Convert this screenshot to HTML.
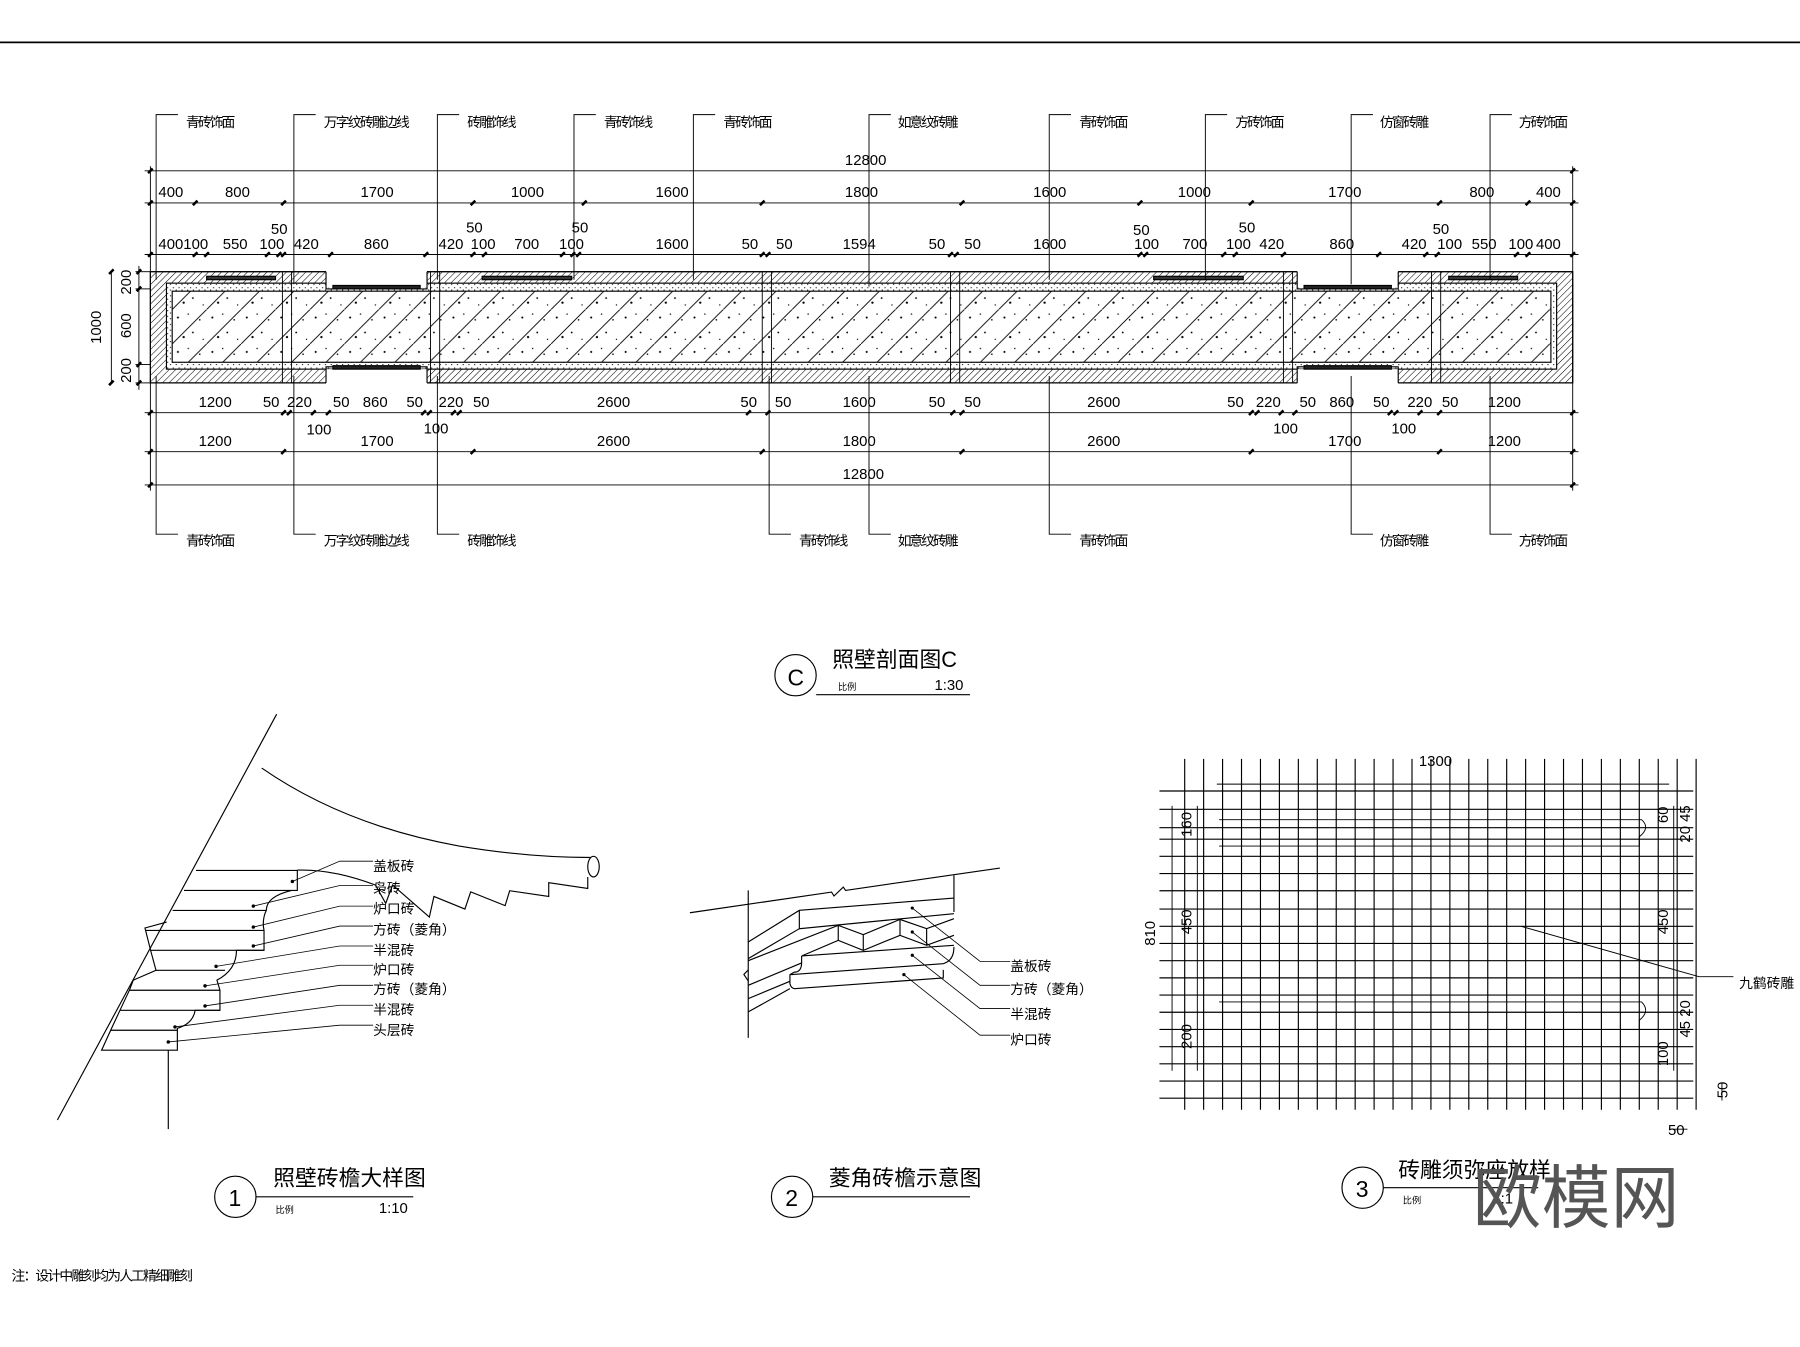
<!DOCTYPE html>
<html><head><meta charset="utf-8"><style>
html,body{margin:0;padding:0;background:#fff;}
svg{display:block;}
text{font-family:"Liberation Sans","Noto Sans CJK SC",sans-serif;fill:#000;}
.cn{font-family:"Liberation Sans","Noto Sans CJK SC",sans-serif;font-size:12px;}
.d{font-size:13px;}
</style></head><body>
<svg width="1800" height="1347" viewBox="0 0 1568 1175" preserveAspectRatio="none" xmlns="http://www.w3.org/2000/svg">
<defs>
<pattern id="hd" width="4" height="4" patternUnits="userSpaceOnUse" patternTransform="rotate(45)"><line x1="0" y1="0" x2="0" y2="4" stroke="#000" stroke-width="0.9"/></pattern>
<pattern id="conc" width="30" height="30" patternUnits="userSpaceOnUse"><rect width="30" height="30" fill="#fff"/><line x1="0" y1="30" x2="30" y2="0" stroke="#000" stroke-width="0.8"/><circle cx="5" cy="7" r="0.9"/><circle cx="18" cy="20" r="0.8"/><circle cx="24" cy="9" r="0.7"/><circle cx="10" cy="24" r="1"/><circle cx="14" cy="4" r="0.6"/><circle cx="27" cy="26" r="0.6"/></pattern>
<pattern id="mort" width="5" height="5" patternUnits="userSpaceOnUse"><rect width="5" height="5" fill="#fff"/><circle cx="1" cy="1" r="0.5"/><circle cx="3.5" cy="3" r="0.5"/></pattern>
</defs>
<g stroke="#000" stroke-width="1" fill="none">
<line x1="0" y1="37" x2="1568" y2="37" stroke-width="1.5"/>
<!-- wall section -->
<rect x="131" y="237" width="1239" height="97" fill="url(#hd)"/>
<rect x="145" y="247" width="1211" height="75" fill="url(#mort)"/>
<rect x="150" y="254" width="1201" height="62" fill="url(#conc)"/>
<rect x="284" y="236" width="88" height="15" fill="#fff" stroke="none"/>
<rect x="1130" y="236" width="88" height="15" fill="#fff" stroke="none"/>
<rect x="284" y="322" width="88" height="13" fill="#fff" stroke="none"/>
<rect x="1130" y="322" width="88" height="13" fill="#fff" stroke="none"/>
<rect x="290" y="249" width="76" height="3" fill="#222"/>
<rect x="1136" y="249" width="76" height="3" fill="#222"/>
<rect x="290" y="319" width="76" height="3" fill="#222"/>
<rect x="1136" y="319" width="76" height="3" fill="#222"/>
<path d="M284 237V252H290M372 237V252H366M1130 237V252H1136M1218 237V252H1212M284 334V320H290M372 334V320H366M1130 334V320H1136M1218 334V320H1212"/>
<rect x="180" y="241" width="60" height="3" fill="#333"/>
<rect x="420" y="241" width="78" height="3" fill="#333"/>
<rect x="1005" y="241" width="78" height="3" fill="#333"/>
<rect x="1262" y="241" width="60" height="3" fill="#333"/>
<line x1="131" y1="237" x2="284" y2="237"/><line x1="372" y1="237" x2="1130" y2="237"/><line x1="1218" y1="237" x2="1370" y2="237"/>
<line x1="131" y1="334" x2="284" y2="334"/><line x1="372" y1="334" x2="1130" y2="334"/><line x1="1218" y1="334" x2="1370" y2="334"/>
<line x1="131" y1="237" x2="131" y2="334"/><line x1="1370" y1="237" x2="1370" y2="334"/>
<g stroke-width="0.8">
<line x1="246" y1="237" x2="246" y2="334"/><line x1="254" y1="237" x2="254" y2="334"/>
<line x1="375" y1="237" x2="375" y2="334"/><line x1="383" y1="237" x2="383" y2="334"/>
<line x1="1118" y1="237" x2="1118" y2="334"/><line x1="1126" y1="237" x2="1126" y2="334"/>
<line x1="1247" y1="237" x2="1247" y2="334"/><line x1="1255" y1="237" x2="1255" y2="334"/>
<line x1="664" y1="237" x2="664" y2="334"/><line x1="672" y1="237" x2="672" y2="334"/>
<line x1="828" y1="237" x2="828" y2="334"/><line x1="836" y1="237" x2="836" y2="334"/>
</g>
<g stroke-width="0.8">
<line x1="126" y1="149" x2="1375" y2="149"/>
<line x1="126" y1="177" x2="1375" y2="177"/>
<line x1="126" y1="222" x2="1375" y2="222"/>
<line x1="126" y1="360" x2="1375" y2="360"/>
<line x1="126" y1="394" x2="1375" y2="394"/>
<line x1="126" y1="423" x2="1375" y2="423"/>
<line x1="131" y1="145" x2="131" y2="237"/><line x1="1370" y1="145" x2="1370" y2="237"/>
<line x1="131" y1="334" x2="131" y2="428"/><line x1="1370" y1="334" x2="1370" y2="428"/>
<line x1="118" y1="237" x2="131" y2="237"/><line x1="118" y1="252" x2="131" y2="252"/><line x1="118" y1="318" x2="131" y2="318"/><line x1="118" y1="334" x2="131" y2="334"/>
<line x1="121" y1="232" x2="121" y2="340"/>
<line x1="97" y1="237" x2="97" y2="334"/>
</g>
<g stroke-width="2.2">
<path d="M129 151l4-4M129 179l4-4M168 179l4-4M245 179l4-4M410 179l4-4M507 179l4-4M662 179l4-4M836 179l4-4M991 179l4-4M1088 179l4-4M1252 179l4-4M1329 179l4-4M1368 179l4-4M1368 151l4-4"/>
<path d="M129 224l4-4M168 224l4-4M178 224l4-4M231 224l4-4M241 224l4-4M245 224l4-4M286 224l4-4M369 224l4-4M410 224l4-4M420 224l4-4M488 224l4-4M497 224l4-4M502 224l4-4M662 224l4-4M667 224l4-4M826 224l4-4M831 224l4-4M991 224l4-4M996 224l4-4M1064 224l4-4M1074 224l4-4M1116 224l4-4M1199 224l4-4M1240 224l4-4M1250 224l4-4M1319 224l4-4M1329 224l4-4M1368 224l4-4"/>
<path d="M129 362l4-4M245 362l4-4M250 362l4-4M271 362l4-4M284 362l4-4M367 362l4-4M372 362l4-4M393 362l4-4M398 362l4-4M650 362l4-4M667 362l4-4M828 362l4-4M836 362l4-4M1088 362l4-4M1093 362l4-4M1114 362l4-4M1126 362l4-4M1209 362l4-4M1214 362l4-4M1235 362l4-4M1252 362l4-4M1368 362l4-4"/>
<path d="M129 396l4-4M245 396l4-4M410 396l4-4M662 396l4-4M836 396l4-4M1088 396l4-4M1252 396l4-4M1368 396l4-4M129 425l4-4M1368 425l4-4"/>
<path d="M119 239l4-4M119 254l4-4M119 320l4-4M119 336l4-4M95 239l4-4M95 336l4-4"/>
</g>
<g stroke-width="0.8">
<path d="M155 100H136V244M275 100H256V248M400 100H381V244M519 100H500V244M623 100H604V244M776 100H757V250M933 100H914V244M1069 100H1050V244M1196 100H1177V248M1317 100H1298V244"/>
<path d="M136 328V466H155M256 328V466H275M381 328V466H400M670 328V466H689M757 328V466H776M914 328V466H933M1177 328V466H1196M1298 328V466H1317"/>
</g>
<circle cx="693" cy="589" r="18"/>
<line x1="711" y1="606" x2="845" y2="606"/>
<!-- drawing 1 -->
<line x1="241" y1="623" x2="50" y2="977"/>
<path d="M228 670 Q300 720 400 738 Q460 748 515 748"/>
<ellipse cx="517" cy="756" rx="5" ry="9"/>
<path d="M259 759 Q290 758 327 772 L336 788 L342 772 L374 800 L378 782 L405 793 L410 778 L440 790 L444 777 L478 782 L478 770 L512 775 L512 765"/>
<path d="M170.7 759.3 H259 V776.7 H254 Q232 782 232 794 Q229 800 229.4 808 L230 811.6 V829 H206 Q206 846 189 855 L191.6 863.8 V881.3 H170 Q168 893 154.5 897 V916.1 H88.5 L96.4 898.7 L104.5 881.3 L112.7 863.8 L116.1 855 L135.9 846.4 L131.2 829 L126.3 809.5 L145.2 804.3"/>
<path d="M160.3 776.7H254M150.4 794.2H232M126.3 811.6H230M131.2 829H230M135.9 846.4H196M112.7 863.8H191.6M104.5 881.3H191.6M96.4 898.7H154.5M146.6 916.1V985"/>
<g stroke-width="0.7">
<path d="M254.7 768.9L296 751.2H325M220.7 790.4L296 772.4H325M220.7 808.7L296 790.4H325M220.7 825.2L296 807.8H325M188.2 843L296 825.2H325M178.6 860L296 842H325M178.6 877.5L296 859.5H325M152.4 895.8L296 876.9H325M146.6 908.9L296 894.3H325"/>
</g>
<g fill="#000" stroke="none"><circle cx="254.7" cy="768.9" r="1.5"/><circle cx="220.7" cy="790.4" r="1.5"/><circle cx="220.7" cy="808.7" r="1.5"/><circle cx="220.7" cy="825.2" r="1.5"/><circle cx="188.2" cy="843" r="1.5"/><circle cx="178.6" cy="860" r="1.5"/><circle cx="178.6" cy="877.5" r="1.5"/><circle cx="152.4" cy="895.8" r="1.5"/><circle cx="146.6" cy="908.9" r="1.5"/></g>
<circle cx="205" cy="1044" r="18"/>
<line x1="223" y1="1044" x2="360" y2="1044"/>
<!-- drawing 2 -->
<path d="M601 796.2 L724.4 778.2 L726.5 781.6 L734.6 773.8 L736.6 776.7 L871 757.2"/>
<path d="M651.8 776.7V905.4M831 763.6V795.6"/>
<path d="M651.8 821.7L696.3 794.1L831 783.4M696.3 794.1V810.1L831 797"/>
<path d="M651.8 836.2L696.3 810.1M651.8 838L730.2 807.2L752 815.3L784 802L807.2 810.1L831 801.4M730.2 807.2V820.3M752 815.3V829M784 802V815.9M807.2 810.1V824.6M698.3 833.9L730.2 820.3L752 829L784 815.9L807.2 824.6L831 815.9M698.3 833.9L831 824.6M698.3 833.9V840 Q698 848 692 848 L688.1 850.2 L821.7 840.6 Q831 838 831 826M688.1 850.2V858 Q689 862 692 862.4L821.7 853.1V846M651.8 859.5L698.3 840M651.8 871.1L688.1 856M651.8 882.7L688.1 862.4M651.8 846L648 850L652 856"/>
<g stroke-width="0.7"><path d="M794.7 792.1L853.7 838.6H880M794.7 813L853.7 859.5H880M794.7 833.3L853.7 879.8H880M787.4 850.2L853.7 903H880"/></g>
<g fill="#000" stroke="none"><circle cx="794.7" cy="792.1" r="1.4"/><circle cx="794.7" cy="813" r="1.4"/><circle cx="794.7" cy="833.3" r="1.4"/><circle cx="787.4" cy="850.2" r="1.4"/></g>
<circle cx="690" cy="1044" r="18"/>
<line x1="708" y1="1044" x2="845" y2="1044"/>
<!-- drawing 3 grid -->
<g stroke-width="1">
<path d="M1032 662V968M1048.5 662V968M1065 662V968M1081.5 662V968M1098 662V968M1114.5 662V968M1131 662V968M1147.5 662V968M1164 662V968M1180.5 662V968M1197 662V968M1213.5 662V968M1230 662V968M1246.5 662V968M1263 662V968M1279.5 662V968M1296 662V968M1312.5 662V968M1329 662V968M1345.5 662V968M1362 662V968M1378.5 662V968M1395 662V968M1411.5 662V968M1428 662V968M1444.5 662V968M1461 662V968M1477.5 662V968"/>
<path d="M1010 690H1475M1010 706H1475M1010 722H1475M1010 732H1475M1010 747H1475M1010 762H1475M1010 777H1475M1010 793H1475M1010 808H1475M1010 823H1475M1010 838H1475M1010 853H1475M1010 868H1475M1010 883H1475M1010 898H1475M1010 913H1475M1010 928H1475M1010 943H1475M1010 958H1475"/>
</g>
<g stroke-width="0.8">
<path d="M1060 684H1454M1021 703V934M1043 703V934M1458 703V934M1500 945V960M1455 985H1470M1325 808L1480 852H1510M1062 715H1430Q1438 722 1428 730V738H1062M1062 874H1430Q1438 882 1428 890V898H1062"/>
</g>
<circle cx="1187" cy="1036" r="18"/>
<line x1="1205" y1="1036" x2="1340" y2="1036"/>
</g>
<g class="cn">
<text x="162" y="111" textLength="43">青砖饰面</text><text x="282" y="111" textLength="75">万字纹砖雕边线</text><text x="407" y="111" textLength="43">砖雕饰线</text><text x="526" y="111" textLength="43">青砖饰线</text><text x="630" y="111" textLength="43">青砖饰面</text><text x="782" y="111" textLength="53">如意纹砖雕</text><text x="940" y="111" textLength="43">青砖饰面</text><text x="1076" y="111" textLength="43">方砖饰面</text><text x="1202" y="111" textLength="43">仿窗砖雕</text><text x="1323" y="111" textLength="43">方砖饰面</text>
<text x="162" y="476" textLength="43">青砖饰面</text><text x="282" y="476" textLength="75">万字纹砖雕边线</text><text x="407" y="476" textLength="43">砖雕饰线</text><text x="696" y="476" textLength="43">青砖饰线</text><text x="782" y="476" textLength="53">如意纹砖雕</text><text x="940" y="476" textLength="43">青砖饰面</text><text x="1202" y="476" textLength="43">仿窗砖雕</text><text x="1323" y="476" textLength="43">方砖饰面</text>
<text x="325" y="760">盖板砖</text><text x="325" y="779">枭砖</text><text x="325" y="797">炉口砖</text><text x="325" y="815">方砖（菱角）</text><text x="325" y="833">半混砖</text><text x="325" y="850">炉口砖</text><text x="325" y="867">方砖（菱角）</text><text x="325" y="885">半混砖</text><text x="325" y="903">头层砖</text>
<text x="880" y="847">盖板砖</text><text x="880" y="867">方砖（菱角）</text><text x="880" y="889">半混砖</text><text x="880" y="911">炉口砖</text>
<text x="1515" y="862">九鹤砖雕</text>
<text x="10" y="1117" textLength="158">注：设计中雕刻均为人工精细雕刻</text>
</g>
<g class="d">
<text x="736" y="144">12800</text>
<text x="138" y="172">400</text><text x="196" y="172">800</text><text x="314" y="172">1700</text><text x="445" y="172">1000</text><text x="571" y="172">1600</text><text x="736" y="172">1800</text><text x="900" y="172">1600</text><text x="1026" y="172">1000</text><text x="1157" y="172">1700</text><text x="1280" y="172">800</text><text x="1338" y="172">400</text>
<text x="236" y="204">50</text><text x="406" y="203">50</text><text x="498" y="203">50</text><text x="987" y="205">50</text><text x="1079" y="203">50</text><text x="1248" y="204">50</text>
<text x="138" y="217">400100</text><text x="194" y="217">550</text><text x="226" y="217">100</text><text x="256" y="217">420</text><text x="317" y="217">860</text><text x="382" y="217">420</text><text x="410" y="217">100</text><text x="448" y="217">700</text><text x="487" y="217">100</text><text x="571" y="217">1600</text><text x="646" y="217">50</text><text x="676" y="217">50</text><text x="734" y="217">1594</text><text x="809" y="217">50</text><text x="840" y="217">50</text><text x="900" y="217">1600</text><text x="988" y="217">100</text><text x="1030" y="217">700</text><text x="1068" y="217">100</text><text x="1097" y="217">420</text><text x="1158" y="217">860</text><text x="1221" y="217">420</text><text x="1252" y="217">100</text><text x="1282" y="217">550</text><text x="1314" y="217">100</text><text x="1338" y="217">400</text>
<text x="173" y="355">1200</text><text x="229" y="355">50</text><text x="250" y="355">220</text><text x="290" y="355">50</text><text x="316" y="355">860</text><text x="354" y="355">50</text><text x="382" y="355">220</text><text x="412" y="355">50</text><text x="520" y="355">2600</text><text x="645" y="355">50</text><text x="675" y="355">50</text><text x="734" y="355">1600</text><text x="809" y="355">50</text><text x="840" y="355">50</text><text x="947" y="355">2600</text><text x="1069" y="355">50</text><text x="1094" y="355">220</text><text x="1132" y="355">50</text><text x="1158" y="355">860</text><text x="1196" y="355">50</text><text x="1226" y="355">220</text><text x="1256" y="355">50</text><text x="1296" y="355">1200</text>
<text x="267" y="379">100</text><text x="369" y="378">100</text><text x="1109" y="378">100</text><text x="1212" y="378">100</text>
<text x="173" y="389">1200</text><text x="314" y="389">1700</text><text x="520" y="389">2600</text><text x="734" y="389">1800</text><text x="947" y="389">2600</text><text x="1157" y="389">1700</text><text x="1296" y="389">1200</text>
<text x="734" y="418">12800</text>
<text transform="translate(88,300) rotate(-90)">1000</text>
<text transform="translate(114,257) rotate(-90)">200</text><text transform="translate(114,295) rotate(-90)">600</text><text transform="translate(114,334) rotate(-90)">200</text>
<text x="1236" y="668">1300</text>
<text transform="translate(1006,825) rotate(-90)">810</text>
<text transform="translate(1038,730) rotate(-90)">160</text><text transform="translate(1038,815) rotate(-90)">450</text><text transform="translate(1038,915) rotate(-90)">200</text>
<text transform="translate(1453,718) rotate(-90)">60</text><text transform="translate(1453,815) rotate(-90)">450</text><text transform="translate(1453,930) rotate(-90)">100</text>
<text transform="translate(1472,735) rotate(-90)">20 45</text><text transform="translate(1472,905) rotate(-90)">45 20</text>
<text transform="translate(1505,958) rotate(-90)">50</text><text x="1453" y="990">50</text>
</g>
<text x="686" y="598" font-size="20">C</text>
<text x="725" y="582" font-size="19">照壁剖面图C</text>
<text x="730" y="602" font-size="8">比例</text><text x="814" y="602" font-size="13">1:30</text>
<text x="199" y="1052" font-size="20">1</text>
<text x="238" y="1034" font-size="19">照壁砖檐大样图</text>
<text x="240" y="1058" font-size="8">比例</text><text x="330" y="1058" font-size="13">1:10</text>
<text x="684" y="1052" font-size="20">2</text>
<text x="722" y="1034" font-size="19">菱角砖檐示意图</text>
<text x="1181" y="1044" font-size="20">3</text>
<text x="1218" y="1027" font-size="19">砖雕须弥座放样</text>
<text x="1222" y="1050" font-size="8">比例</text><text x="1300" y="1050" font-size="13">1:1</text>
<text x="1283" y="1066" font-size="60" style="fill:#555">欧模网</text>
</svg>
</body></html>
